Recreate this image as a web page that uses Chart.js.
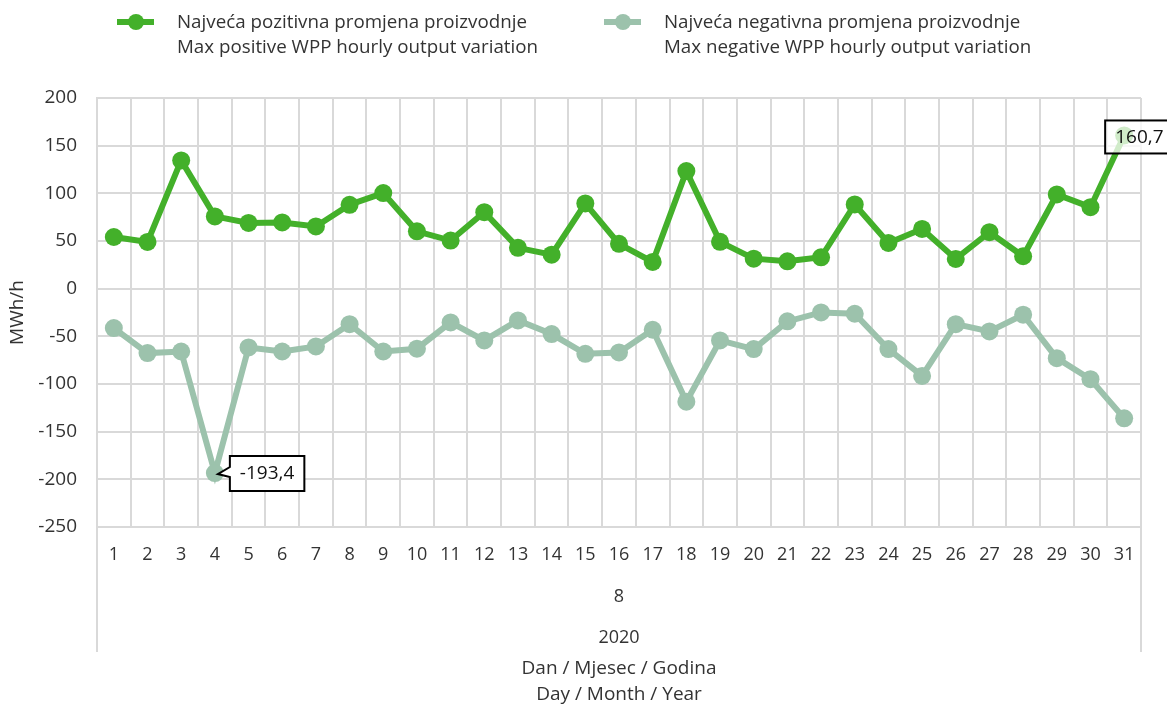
<!DOCTYPE html>
<html lang="hr">
<head>
<meta charset="UTF-8">
<title>WPP hourly output variation</title>
<script src="https://cdn.jsdelivr.net/npm/chart.js"></script>
<style>
  body { margin: 0; padding: 0; background: #ffffff; }
  #wrap { width: 1167px; height: 704px; }
</style>
</head>
<body>
<div id="wrap"><canvas id="wppChart" width="1167" height="704"></canvas></div>
<script>
// day of month (August 2020)
var days = ['1','2','3','4','5','6','7','8','9','10','11','12','13','14','15','16',
            '17','18','19','20','21','22','23','24','25','26','27','28','29','30','31'];
var positiveValues = [54.2, 49.0, 134.5, 75.8, 68.9, 69.5, 65.3, 88.0, 100.3, 60.2, 50.5,
                      80.2, 42.8, 35.7, 89.4, 47.0, 28.0, 123.3, 49.1, 31.5, 28.7, 32.9,
                      88.3, 48.0, 62.7, 31.2, 59.2, 34.0, 98.8, 85.5, 160.7];
var negativeValues = [-41.3, -67.6, -65.9, -193.4, -61.7, -65.9, -60.6, -37.2, -65.9, -63.0,
                      -35.4, -54.3, -33.3, -47.6, -68.3, -66.9, -43.1, -118.5, -54.3, -63.4,
                      -34.3, -24.9, -26.3, -63.4, -91.5, -37.2, -44.8, -27.3, -72.9, -95.0, -136.0];
var monthLabels = ['8'];
var yearLabels = ['2020'];
var positiveLegend = ['Najveća pozitivna promjena proizvodnje', 'Max positive WPP hourly output variation'];
var negativeLegend = ['Najveća negativna promjena proizvodnje', 'Max negative WPP hourly output variation'];
var xTitle = ['Dan / Mjesec / Godina', 'Day / Month / Year'];
var yTitle = 'MWh/h';

var GREEN = '#43b02a';
var PALE = '#9cc2ac';
var GRID = '#d9d9d9';
var TEXT = '#333333';
var FONT = "'Open Sans', 'Liberation Sans', sans-serif";

Chart.defaults.font.family = FONT;
Chart.defaults.color = TEXT;

function fmt(v) {
    return v.toFixed(1).replace('.', ',');
}

// two line legend at top, drawn by hand because of the wrapped labels
var legendPlugin = {
    id: 'twoLineLegend',
    afterDraw: function(chart) {
        var ctx = chart.ctx;
        var items = [
            { color: GREEN, text: positiveLegend, x: 117 },
            { color: PALE, text: negativeLegend, x: 604 }
        ];
        ctx.save();
        items.forEach(function(it) {
            ctx.strokeStyle = it.color;
            ctx.lineWidth = 6;
            ctx.beginPath();
            ctx.moveTo(it.x, 22);
            ctx.lineTo(it.x + 37, 22);
            ctx.stroke();
            ctx.fillStyle = it.color;
            ctx.beginPath();
            ctx.arc(it.x + 19, 22, 8, 0, Math.PI * 2);
            ctx.fill();
            ctx.fillStyle = TEXT;
            ctx.font = '18.75px ' + FONT;
            ctx.textBaseline = 'middle';
            ctx.textAlign = 'left';
            ctx.fillText(it.text[0], it.x + 60, 23);
            ctx.fillText(it.text[1], it.x + 60, 48);
        });
        ctx.restore();
    }
};

// value boxes on the max and min points + the frame round the category levels
var calloutPlugin = {
    id: 'callouts',
    afterDraw: function(chart) {
        var ctx = chart.ctx;
        var area = chart.chartArea;
        ctx.save();

        // side lines of the multi level axis
        ctx.strokeStyle = GRID;
        ctx.lineWidth = 2;
        ctx.beginPath();
        ctx.moveTo(area.left, area.bottom);
        ctx.lineTo(area.left, chart.scales.xYear.top + 34);
        ctx.moveTo(area.right, area.bottom);
        ctx.lineTo(area.right, chart.scales.xYear.top + 34);
        ctx.stroke();

        ctx.font = '19px ' + FONT;
        ctx.textBaseline = 'middle';
        ctx.textAlign = 'left';

        // max positive
        var iMax = positiveValues.indexOf(Math.max.apply(null, positiveValues));
        var p = chart.getDatasetMeta(0).data[iMax];
        var t1 = fmt(positiveValues[iMax]);
        var w1 = ctx.measureText(t1).width + 20;
        var l1 = p.x - 19, top1 = p.y - 15;
        ctx.fillStyle = 'rgba(255,255,255,0.75)';
        ctx.fillRect(l1, top1, w1, 33);
        ctx.strokeStyle = '#000';
        ctx.lineWidth = 2;
        ctx.strokeRect(l1, top1, w1, 33);
        ctx.fillStyle = '#111';
        ctx.fillText(t1, l1 + 10, top1 + 17);

        // min negative, speech bubble style
        var iMin = negativeValues.indexOf(Math.min.apply(null, negativeValues));
        var q = chart.getDatasetMeta(1).data[iMin];
        var t2 = fmt(negativeValues[iMin]);
        var w2 = ctx.measureText(t2).width + 20;
        var l2 = q.x + 15, top2 = q.y - 17, h2 = 35;
        ctx.beginPath();
        ctx.moveTo(l2, top2);
        ctx.lineTo(l2 + w2, top2);
        ctx.lineTo(l2 + w2, top2 + h2);
        ctx.lineTo(l2, top2 + h2);
        ctx.lineTo(l2, q.y + 4);
        ctx.lineTo(q.x + 3, q.y + 1);
        ctx.lineTo(l2, q.y - 6);
        ctx.closePath();
        ctx.fillStyle = '#fff';
        ctx.fill();
        ctx.stroke();
        ctx.fillStyle = '#111';
        ctx.fillText(t2, l2 + 10, top2 + 18);

        ctx.restore();
    }
};

var ctx = document.getElementById('wppChart').getContext('2d');
new Chart(ctx, {
    type: 'line',
    data: {
        labels: days,
        datasets: [{
            label: positiveLegend.join(' '),
            data: positiveValues,
            borderColor: GREEN,
            backgroundColor: GREEN,
            borderWidth: 6,
            pointRadius: 9,
            pointBorderWidth: 0,
            pointBackgroundColor: GREEN,
            tension: 0,
            fill: false
        }, {
            label: negativeLegend.join(' '),
            data: negativeValues,
            borderColor: PALE,
            backgroundColor: PALE,
            borderWidth: 6,
            pointRadius: 9,
            pointBorderWidth: 0,
            pointBackgroundColor: PALE,
            tension: 0,
            fill: false
        }]
    },
    options: {
        responsive: false,
        animation: false,
        devicePixelRatio: 1,
        layout: { padding: { top: 98, right: 26, left: 0, bottom: 0 } },
        plugins: {
            legend: { display: false },
            tooltip: { enabled: false }
        },
        scales: {
            y: {
                min: -250,
                max: 200,
                afterFit: function(s) { s.width = 97; },
                ticks: { stepSize: 50, padding: 20, font: { size: 19 }, color: TEXT },
                grid: { color: GRID, lineWidth: 2, drawTicks: false },
                border: { display: true, color: GRID, width: 2 },
                title: { display: true, text: yTitle, font: { size: 19 }, padding: { top: 6, bottom: 0 }, color: TEXT }
            },
            x: {
                weight: 0,
                offset: true,
                afterFit: function(s) { s.height = 50; },
                ticks: { padding: 17, font: { size: 18 }, color: TEXT, maxRotation: 0, autoSkip: false },
                grid: { color: GRID, lineWidth: 2, offset: true, drawTicks: false },
                border: { display: true, color: GRID, width: 2 }
            },
            xMonth: {
                type: 'category',
                position: 'bottom',
                weight: 1,
                labels: monthLabels,
                offset: true,
                afterFit: function(s) { s.height = 41; },
                ticks: { padding: 9, font: { size: 18 }, color: TEXT },
                grid: { display: false, drawTicks: false },
                border: { display: false }
            },
            xYear: {
                type: 'category',
                position: 'bottom',
                weight: 2,
                labels: yearLabels,
                offset: true,
                afterFit: function(s) { s.height = 86; },
                ticks: { padding: 9, font: { size: 18 }, color: TEXT },
                grid: { display: false, drawTicks: false },
                border: { display: false },
                title: {
                    display: true,
                    text: xTitle,
                    font: { size: 19, lineHeight: 1.37 },
                    padding: { top: 0, bottom: -4 },
                    color: TEXT
                }
            }
        }
    },
    plugins: [legendPlugin, calloutPlugin]
});
</script>
</body>
</html>
